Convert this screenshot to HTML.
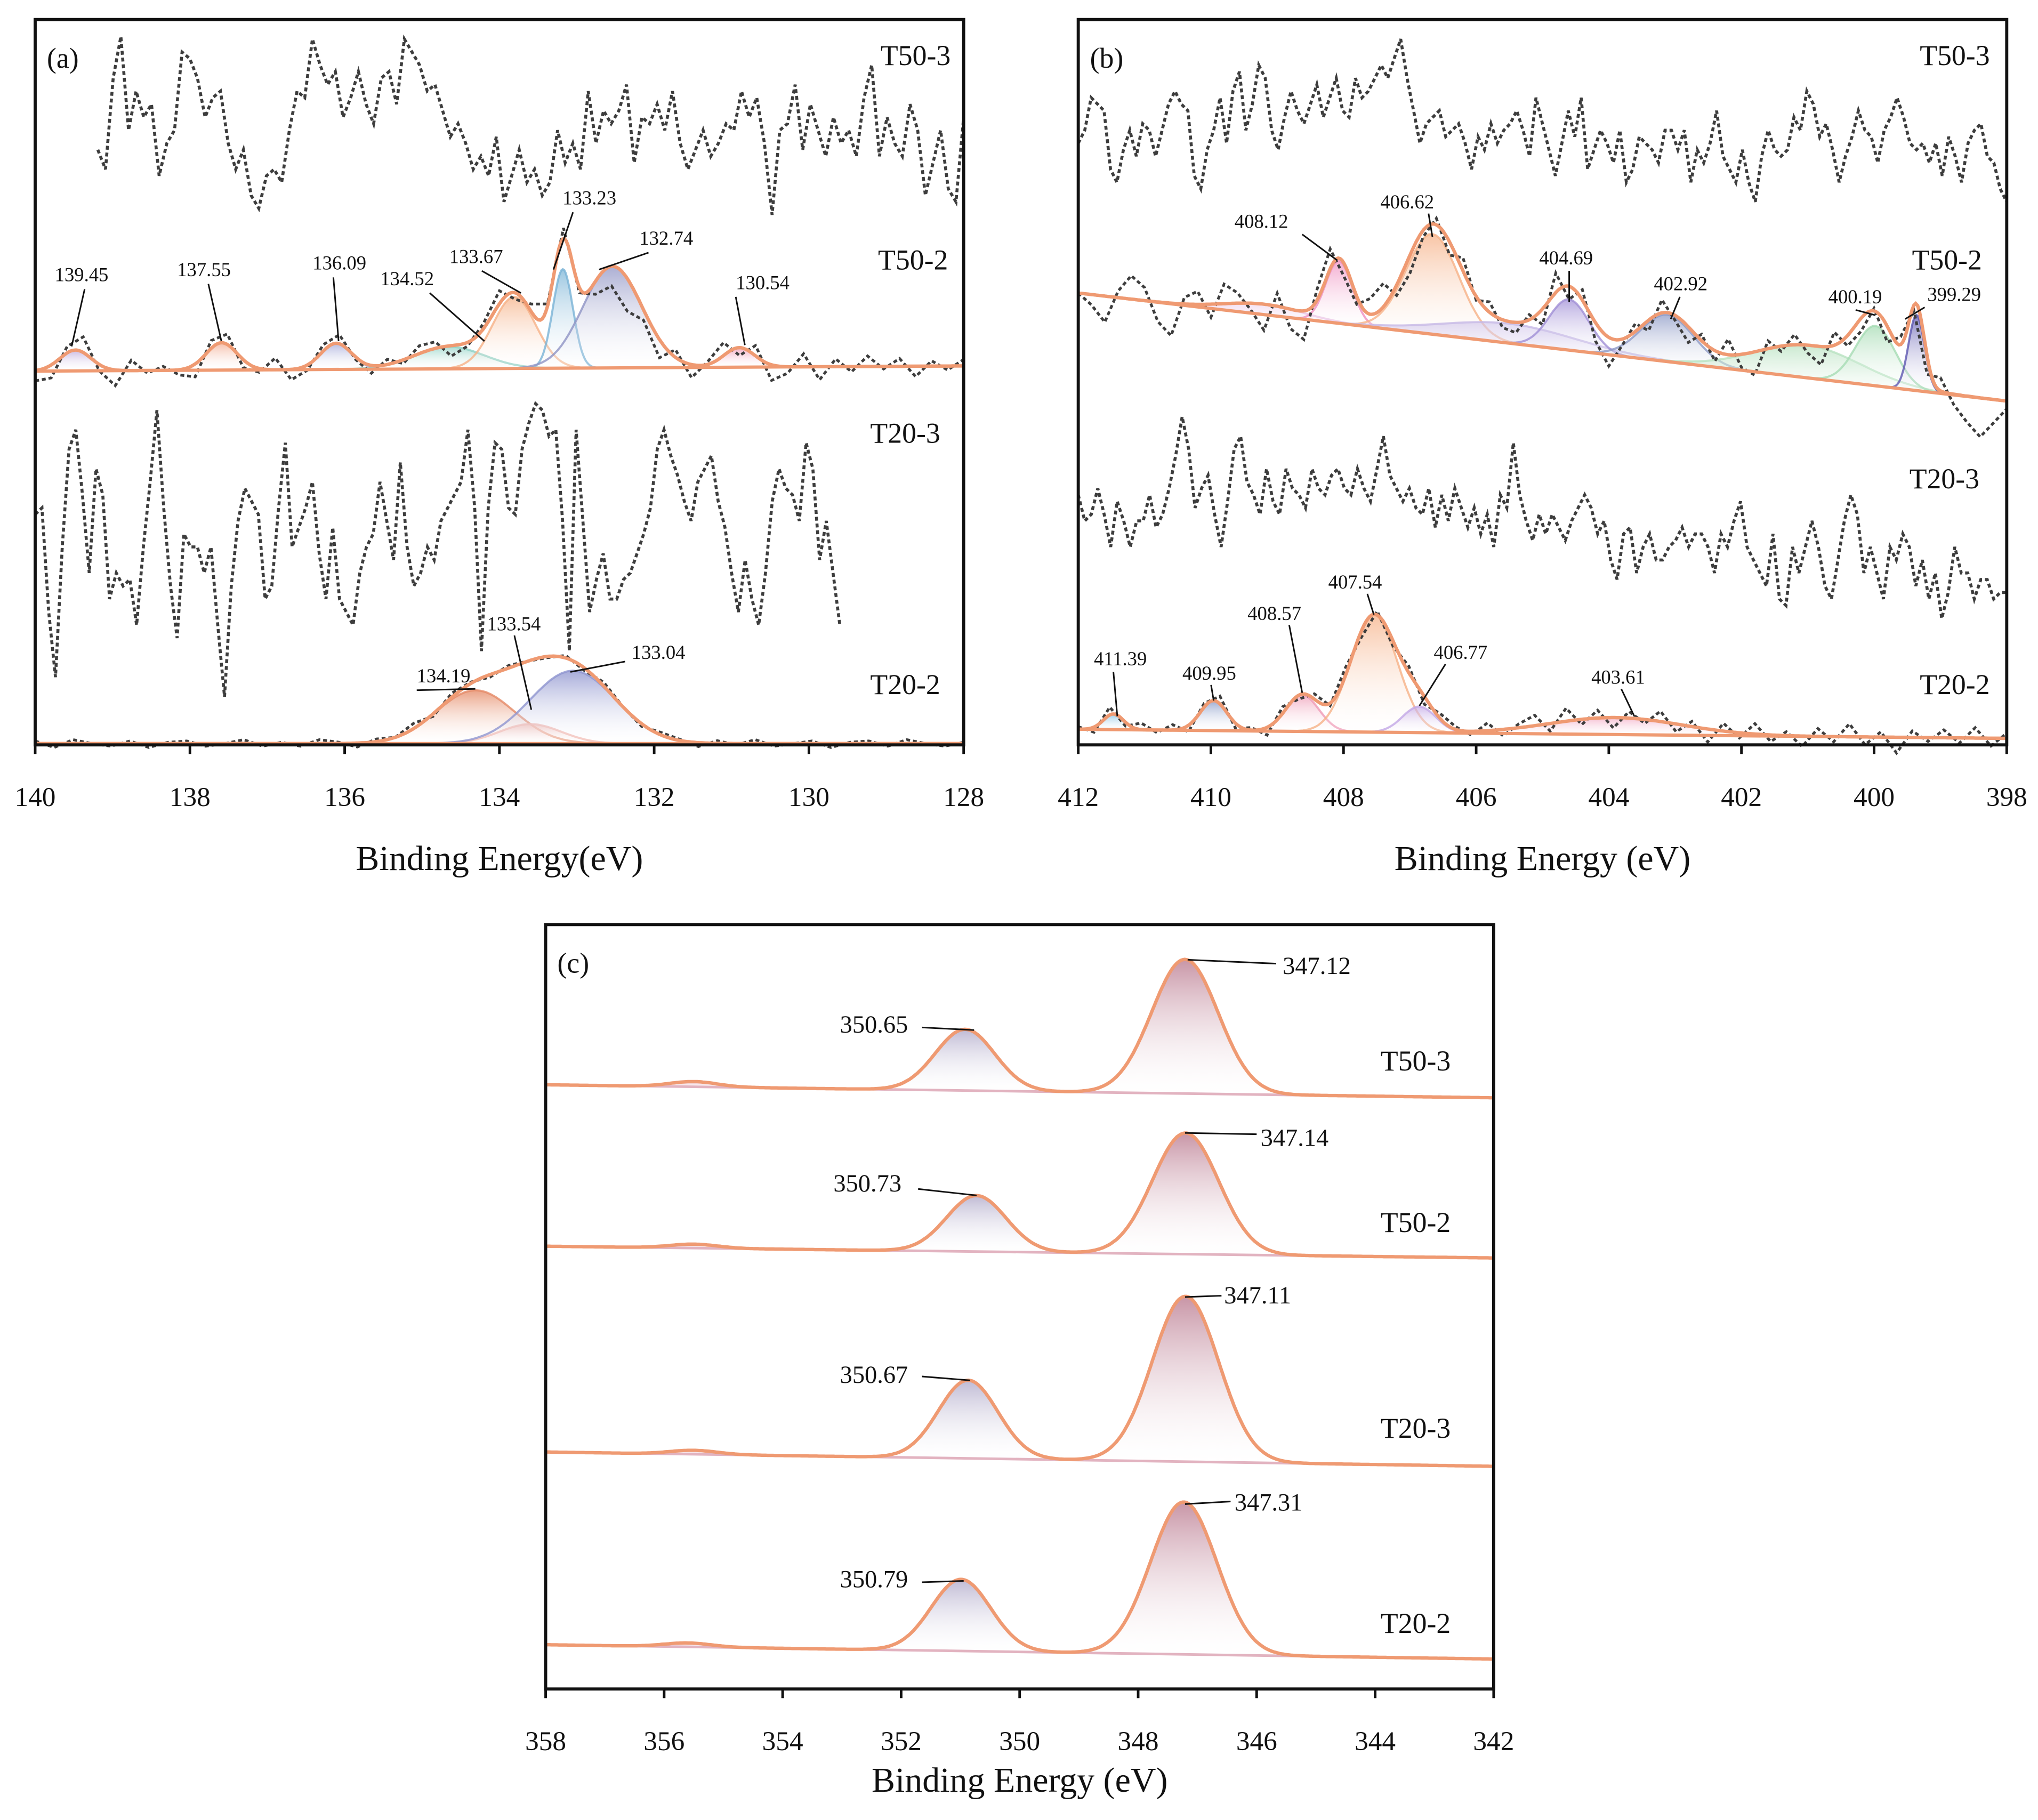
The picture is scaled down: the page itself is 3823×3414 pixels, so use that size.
<!DOCTYPE html>
<html><head><meta charset="utf-8">
<style>
html,body{margin:0;padding:0;background:#fff;}
svg{display:block;}
text{font-family:"Liberation Serif",serif;fill:#111;}
</style></head>
<body>
<svg id="fig" width="3823" height="3414" viewBox="0 0 1565 1397.6" xmlns="http://www.w3.org/2000/svg">
<defs id="defs"></defs>
<rect x="0" y="0" width="1565" height="1398" fill="#fff"/>
<g id="layer"></g>
</svg>
<script>
// ---------- DATA ----------
const aT503Values=[55,40,110,142,70,100,80,90,35,60,70,130,125,110,80,95,100,60,40,55,20,10,35,40,30,70,100,95,140,120,105,115,80,95,115,90,75,110,115,90,140,130,120,100,105,85,65,75,60,40,50,35,65,15,35,55,30,40,20,30,70,45,60,40,100,60,85,75,85,105,45,80,75,90,70,100,60,40,55,70,50,60,75,70,100,80,95,60,5,70,75,105,55,90,70,50,80,60,70,50,95,120,50,80,60,50,90,70,20,45,70,25,15,80];
const aT503Range=[139.19,128];
const aT203Values=[165,170,90,40,140,215,230,180,120,200,180,100,120,110,115,80,140,190,245,170,110,70,150,140,140,120,140,80,25,110,160,185,175,165,100,110,170,220,140,155,170,190,135,100,155,100,90,80,120,140,150,190,160,130,205,140,110,120,140,130,160,170,180,190,230,170,60,170,220,215,170,165,215,235,250,245,225,230,160,60,230,160,90,115,135,100,100,115,120,135,150,170,215,230,210,195,175,160,190,200,210,175,155,120,90,130,100,80,120,175,200,185,180,160,220,200,130,160,120,80],
  aT203Range=[140,129.6];
const aT502Centers=[139.48,137.59,136.11,134.65,133.81,133.18,132.54,130.9];
const aT502Heights=[16,21,20,17,55,76,78,15];
const aT502Widths=[0.2,0.2,0.2,0.45,0.28,0.13,0.38,0.2];
const aT502Noise=[-8,-10,5,12,-5,-12,8,-2,3,-4,-10,6,8,-6,-3,9,-8,-4,5,7,-2,-6,4,-3,6,5,-8,-3,4,10,-5,6,2,8,-4,-10,-15,-25,-8,-14,6,-10,2,10,-6,8,-12,-5,10,-10,6,-4,8,-2,6,-8,4,-3,5];
const aT202Centers=[134.31,133.6,133.05];
const aT202Heights=[41,15,56];
const aT202Widths=[0.5,0.4,0.55];
const aT202Noise=[2,-3,3,0,-2,2,-3,1,2,-2,0,3,-2,1,-2,3,1,-3,2,0,4,-2,3,1,-2,2,0,-1,2,-2,3,0,-2,2,1,-3,2,-1,3,-2,0,2,-3,1,2,-2,3,0,-2,1];
const bT503Values=[55,65,90,85,80,35,25,50,65,45,70,65,45,65,85,95,85,80,30,20,50,65,90,55,95,110,65,85,115,105,65,50,75,95,80,70,85,100,75,90,105,80,75,105,90,95,105,115,105,120,135,105,80,55,70,75,80,60,65,70,55,35,60,50,70,55,65,70,80,65,45,90,70,50,30,55,80,60,90,35,50,65,55,40,65,25,35,60,55,50,40,65,65,50,65,25,50,40,55,80,45,35,25,50,25,10,45,65,50,45,50,75,65,95,85,60,70,50,25,45,60,80,65,60,40,65,75,90,75,55,50,55,40,55,30,60,45,25,55,65,70,45,40,20,10];
const bT203Values=[100,80,85,105,85,60,95,80,60,80,80,100,75,85,105,130,160,135,90,105,115,85,60,95,135,145,110,100,85,120,95,85,120,105,100,90,120,105,100,115,120,105,100,120,105,95,120,145,115,105,95,105,90,85,105,75,100,80,105,90,75,90,70,85,60,100,90,140,100,80,65,85,70,85,75,65,80,90,100,90,70,80,50,35,70,75,40,60,70,50,50,60,65,75,60,70,70,60,40,70,60,80,95,60,50,40,30,70,20,15,60,40,60,80,60,30,20,50,80,100,85,40,60,40,20,60,50,70,60,30,50,20,40,5,25,60,40,40,20,35,35,20,25,25];
const bRawRange=[412,398];
const bT502Centers=[409.2,408.07,406.66,405.5,404.6,403.12,401.0,399.98,399.36];
const bT502Heights=[8,48,77,15,39,36,25,46,58];
const bT502Widths=[0.6,0.2,0.4,1.0,0.3,0.4,0.8,0.3,0.12];
const bT502Noise=[0,-8,-20,5,18,10,-15,-25,5,10,-10,15,8,-5,-20,10,-15,-22,8,15,-10,-6,12,18,-8,-14,-5,5,-10,10,-3,8,-6,-8,4,-12,15,-10,8,-14,-22,-5,6,-8,10,-4,-12,5,-8,12,-10,-18,6,-4,8,-6,-14,10,-8,-10,2,-12,6,-4,-14,10,-8,-20,-30,-18,-6];
const bT202Centers=[411.47,409.96,408.62,407.54,406.86,403.9];
const bT202Heights=[12,23,28,90,20,13];
const bT202Widths=[0.15,0.2,0.25,0.35,0.25,1.0];
const bT202Noise=[2,-4,6,-3,5,-2,4,-5,3,6,-4,2,-6,5,-3,4,-2,6,-5,3,-4,5,-6,4,2,-3,6,-5,3,8,-6,10,-4,6,-8,5,-3,8,-6,4,-10,6,-4,8,-5,3,-8,6,-4,10,-6,4,-12,5,-3,6,-4,8,-6,4];
const cT503Centers=[355.5,350.92,347.21];
const cT503Heights=[4,47,103];
const cT502Centers=[355.5,350.73,347.2];
const cT502Heights=[3,43,93];
const cT203Centers=[355.5,350.87,347.2];
const cT203Heights=[3,60,127];
const cT202Centers=[355.6,350.99,347.23];
const cT202Heights=[3,55,117];
const cWidths=[0.4,0.5,0.56];
const aTicks=[140,138,136,134,132,130,128];
const bTicks=[412,410,408,406,404,402,400,398];
const cTicks=[358,356,354,352,350,348,346,344,342];

// ---------- DRAWING ----------
const NS="http://www.w3.org/2000/svg";
const layer=document.getElementById('layer');
const defs=document.getElementById('defs');
function mk(tag,attrs,parent){const e=document.createElementNS(NS,tag);for(const k in attrs)e.setAttribute(k,attrs[k]);(parent||layer).appendChild(e);return e;}
function txt(s,x,y,size,anchor,parent){const t=mk('text',{x:x,y:y,'font-size':size,'text-anchor':anchor||'start'},parent);t.textContent=s;return t;}
const PA={x0:27,x1:740,y0:15,y1:572,e0:140,e1:128};
const PB={x0:828,x1:1541,y0:15,y1:572,e0:412,e1:398};
const PC={x0:419,x1:1147,y0:710,y1:1297,e0:358,e1:342};
function xs(p,e){return p.x0+(p.e0-e)/(p.e0-p.e1)*(p.x1-p.x0);}
function gauss(e,c,h,w){return h*Math.exp(-(e-c)*(e-c)/(2*w*w));}
let gid=0;
function grad(color,op){const id='g'+(gid++);const g=mk('linearGradient',{id:id,x1:0,y1:0,x2:0,y2:1},defs);
 mk('stop',{offset:'0','stop-color':color,'stop-opacity':op},g);mk('stop',{offset:'1','stop-color':'#fff','stop-opacity':0.1},g);return 'url(#'+id+')';}
function baseY(p,bl,br,e){return bl+(br-bl)*(p.e0-e)/(p.e0-p.e1);}

function rawTrace(p,vals,range,baseline,grp,name){
 let d='';const n=vals.length;
 for(let i=0;i<n;i++){const e=range[0]+(range[1]-range[0])*i/(n-1);d+=(i?'L':'M')+xs(p,e).toFixed(1)+','+(baseline-vals[i]).toFixed(1);}
 const el=mk('path',{d:d,fill:'none',stroke:'#3d3d3d','stroke-width':2.3,'stroke-dasharray':'3 2.2'},grp);
 
 
}
function fitted(p,C,H,W,noise,bl,br,colors,grp,name,fillOp,envColor){
 const g=mk('g',{},grp);
 
 
 for(let k=0;k<C.length;k++){
  const lo=Math.max(p.e1,C[k]-4*W[k]),hi=Math.min(p.e0,C[k]+4*W[k]);
  let d='',dl='';const N=60;
  for(let i=0;i<=N;i++){const e=hi-(hi-lo)*i/N;const y=baseY(p,bl,br,e)-gauss(e,C[k],H[k],W[k]);
   d+=(i?'L':'M')+xs(p,e).toFixed(1)+','+y.toFixed(1);}
  dl=d;
  d+='L'+xs(p,lo).toFixed(1)+','+baseY(p,bl,br,lo).toFixed(1)+'L'+xs(p,hi).toFixed(1)+','+baseY(p,bl,br,hi).toFixed(1)+'Z';
  const col=colors[k%colors.length];
  const f=mk('path',{d:d,fill:grad(col,fillOp),stroke:'none'},g);
  
  
  mk('path',{d:dl,fill:'none',stroke:col,'stroke-width':1.6,'stroke-opacity':0.8},g);
 }
 const env=e=>{let s=0;for(let k=0;k<C.length;k++)s+=gauss(e,C[k],H[k],W[k]);return s;};
 if(noise){let d='';const n=noise.length;
  for(let i=0;i<n;i++){const e=p.e0-(p.e0-p.e1)*i/(n-1);d+=(i?'L':'M')+xs(p,e).toFixed(1)+','+(baseY(p,bl,br,e)-env(e)-noise[i]).toFixed(1);}
  const dt=mk('path',{d:d,fill:'none',stroke:'#3d3d3d','stroke-width':2.1,'stroke-dasharray':'3 2.2'},g);
  
  
 }
 const b=mk('line',{x1:p.x0,y1:bl,x2:p.x1,y2:br,stroke:noise?envColor:'#e2b3c0','stroke-width':noise?2.5:2},g);
 
 
 let d='';const N=500;
 for(let i=0;i<=N;i++){const e=p.e0-(p.e0-p.e1)*i/N;d+=(i?'L':'M')+xs(p,e).toFixed(1)+','+(baseY(p,bl,br,e)-env(e)).toFixed(1);}
 const en=mk('path',{d:d,fill:'none',stroke:envColor,'stroke-width':2.6},g);
 
 
}
function frame(p,ticks,title,letter,name,titleY){
 const g=mk('g',{});
 
 
 const r=mk('rect',{x:p.x0,y:p.y0,width:p.x1-p.x0,height:p.y1-p.y0,fill:'none',stroke:'#111','stroke-width':2.4},g);
 
 
 for(const t of ticks){const x=xs(p,t);
  mk('line',{x1:x,y1:p.y1,x2:x,y2:p.y1+7,stroke:'#111','stroke-width':2},g);
  const tl=txt(String(t),x,p.y1+47,21,'middle',g);
  
  
 }
 const at=txt(title,(p.x0+p.x1)/2,titleY,27,'middle',g);
 
 
 const lt=txt(letter,p.x0+9,p.y0+37,22,'start',g);
 
 
 return g;
}
function label(s,tx,ty,lx1,ly1,lx2,ly2,grp,size){
 const t=txt(s,tx,ty,size||15,'start',grp);
 
 
 mk('line',{x1:lx1,y1:ly1,x2:lx2,y2:ly2,stroke:'#111','stroke-width':1.2},grp);
}
function sample(s,x,y,grp){const t=txt(s,x,y,22,'end',grp);
 
 }

const ORANGE='#ef9a72';
const ga=mk('g',{});


rawTrace(PA,aT503Values,aT503Range,170,ga,'a-t50-3-trace');
rawTrace(PA,aT203Values,aT203Range,560,ga,'a-t20-3-trace');
fitted(PA,aT502Centers,aT502Heights,aT502Widths,aT502Noise,285,281,['#b9a3d9','#f2a68a','#9ea3d6','#8fd1c4','#f6b187','#79b3d6','#8f93c4','#ef8fb0'],ga,'a-t50-2',0.75,ORANGE);
fitted(PA,aT202Centers,aT202Heights,aT202Widths,aT202Noise,571,571,['#e58a66','#f2b9b0','#8f95cf'],ga,'a-t20-2',0.8,ORANGE);
frame(PA,aTicks,'Binding Energy(eV)','(a)','panel-a-axes',668);
sample('T50-3',730,50,ga);sample('T50-2',728,207,ga);sample('T20-3',722,340,ga);sample('T20-2',722,533,ga);
label('139.45',42,216,65,222,55,266,ga);label('137.55',136,212,160,218,170,262,ga);
label('136.09',240,207,256,213,260,262,ga);label('134.52',292,219,330,225,372,262,ga);
label('133.67',345,202,370,208,400,225,ga);label('133.23',432,157,440,163,425,207,ga);
label('132.74',491,188,498,194,460,207,ga);label('130.54',565,222,565,228,572,265,ga);
label('134.19',320,524,320,530,365,529,ga);label('133.54',374,484,395,488,408,545,ga);
label('133.04',485,506,480,508,438,516,ga);
const gb=mk('g',{});


rawTrace(PB,bT503Values,bRawRange,165,gb,'b-t50-3-trace');
rawTrace(PB,bT203Values,bRawRange,480,gb,'b-t20-3-trace');
fitted(PB,bT502Centers,bT502Heights,bT502Widths,bT502Noise,225,308,['#e8c3e6','#ef8fc0','#f6b187','#c7b9e6','#a08ed6','#8d9ac6','#b8e2c0','#a6dcb4','#5e58b0'],gb,'b-t50-2',0.75,ORANGE);
fitted(PB,bT202Centers,bT202Heights,bT202Widths,bT202Noise,560,567,['#73b9e0','#7c90c4','#ef9ab5','#f6b187','#c3a8e6','#f2aac4'],gb,'b-t20-2',0.75,ORANGE);
frame(PB,bTicks,'Binding Energy (eV)','(b)','panel-b-axes',668);
sample('T50-3',1528,50,gb);sample('T50-2',1522,207,gb);sample('T20-3',1520,375,gb);sample('T20-2',1528,533,gb);
label('408.12',948,175,1000,180,1027,200,gb);label('406.62',1060,160,1097,164,1100,182,gb);
label('404.69',1182,203,1205,208,1205,232,gb);label('402.92',1270,223,1290,228,1283,245,gb);
label('400.19',1404,233,1425,238,1440,242,gb);label('399.29',1480,231,1478,236,1463,245,gb);
label('411.39',840,511,855,516,858,550,gb);label('409.95',908,522,930,526,932,538,gb);
label('408.57',958,476,990,480,1000,532,gb);label('407.54',1020,452,1050,456,1055,472,gb);
label('406.77',1101,506,1110,510,1090,542,gb);label('403.61',1222,525,1245,529,1255,550,gb);
const gc=mk('g',{});


const cCols=['#e8b4c0','#b8b2cf','#c2899c'];
fitted(PC,cT503Centers,cT503Heights,cWidths,null,833,843,cCols,gc,'c-t50-3',0.9,ORANGE);
fitted(PC,cT502Centers,cT502Heights,cWidths,null,957,966,cCols,gc,'c-t50-2',0.9,ORANGE);
fitted(PC,cT203Centers,cT203Heights,cWidths,null,1115,1126,cCols,gc,'c-t20-3',0.9,ORANGE);
fitted(PC,cT202Centers,cT202Heights,cWidths,null,1263,1274,cCols,gc,'c-t20-2',0.9,ORANGE);
frame(PC,cTicks,'Binding Energy (eV)','(c)','panel-c-axes',1376);
sample('T50-3',1114,822,gc);sample('T50-2',1114,946,gc);sample('T20-3',1114,1104,gc);sample('T20-2',1114,1254,gc);
label('347.12',985,748,912,737,980,740,gc,19);label('350.65',645,793,708,789,748,791,gc,19);
label('347.14',968,880,910,870,965,871,gc,19);label('350.73',640,915,705,913,750,918,gc,19);
label('347.11',940,1001,910,996,938,995,gc,19);label('350.67',645,1062,708,1057,745,1060,gc,19);
label('347.31',948,1160,910,1155,945,1153,gc,19);label('350.79',645,1219,708,1215,740,1214,gc,19);
</script>
</body></html>
